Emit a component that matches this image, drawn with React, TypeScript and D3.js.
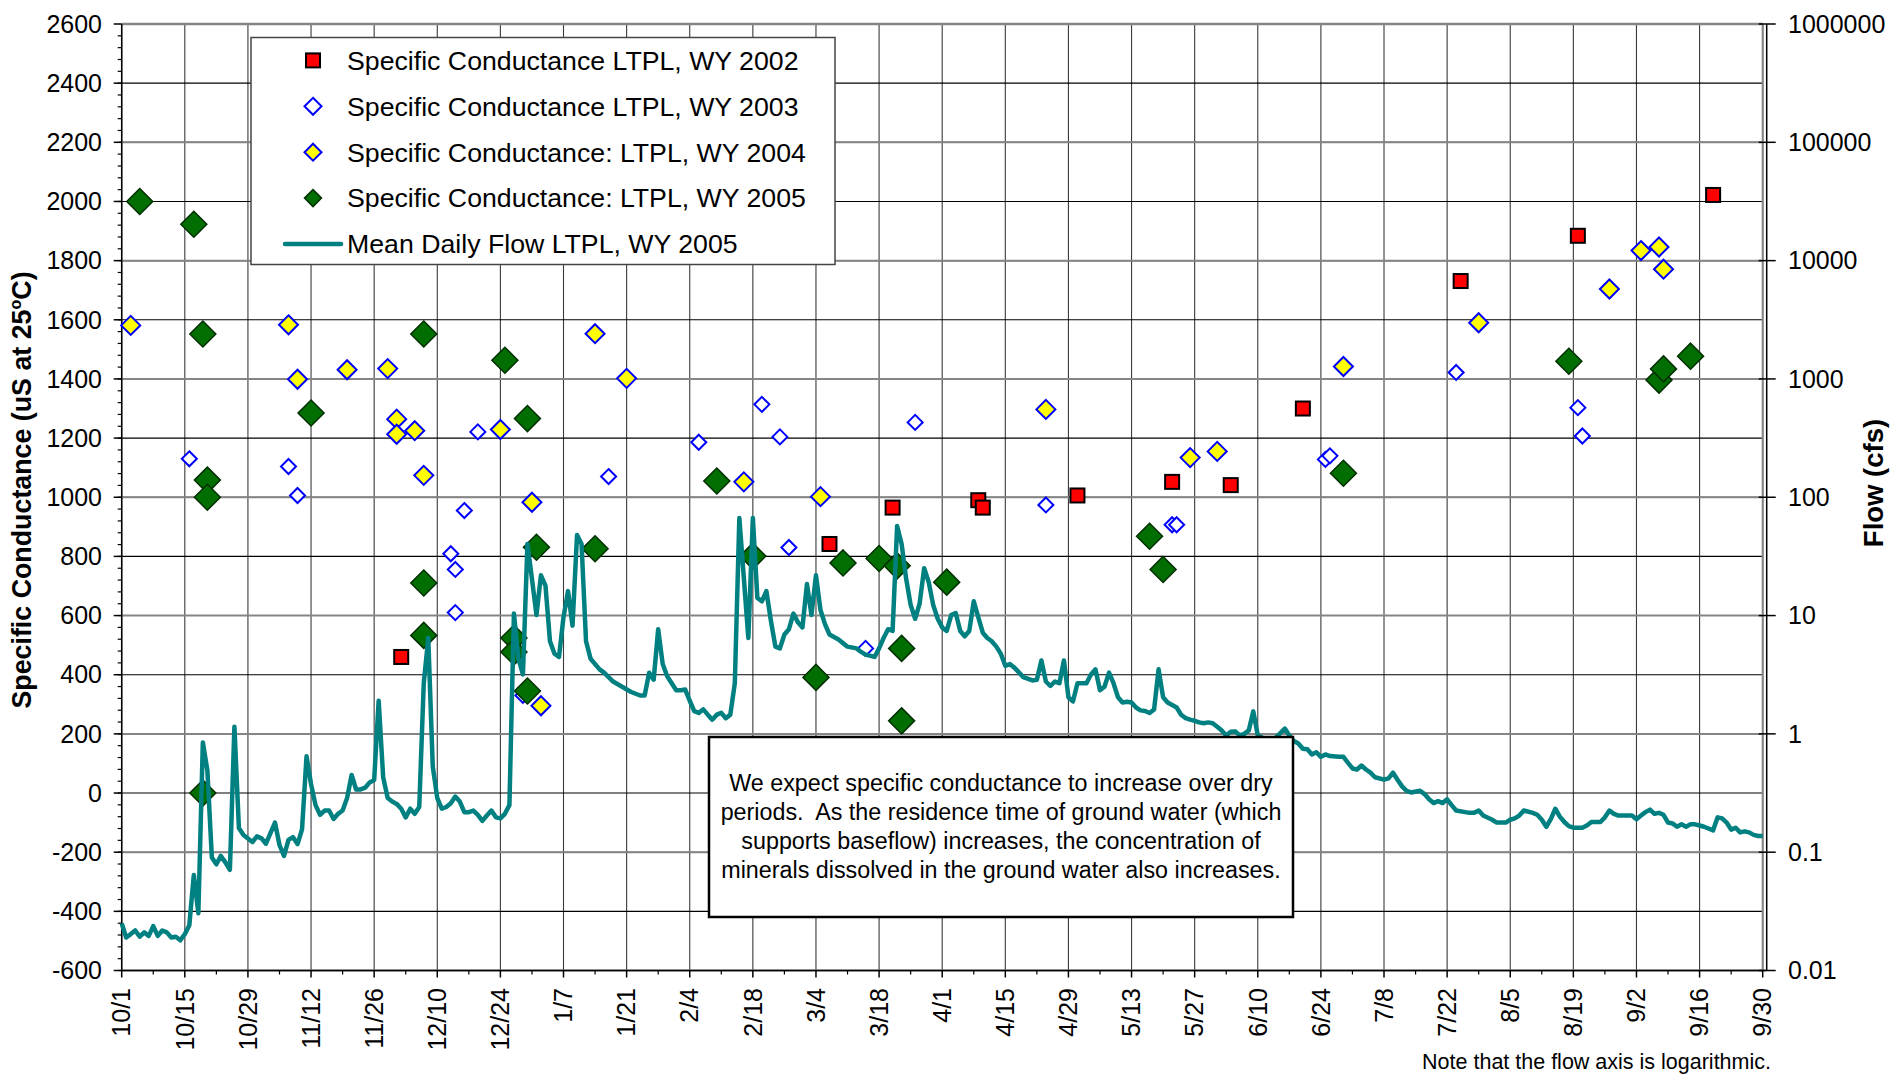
import * as d3 from 'd3';

// water year 2005 runs 10/1/2004 .. 9/30/2005
const WY_START = new Date(2004, 9, 1);
const WY_END = new Date(2005, 8, 30);

// specific conductance samples (uS at 25C), plotted by month/day on the WY 2005 axis
const wy2002Dates = ['12/2', '3/7', '3/21', '4/9', '4/10', '5/1', '5/22', '6/4', '6/20', '7/25', '8/20', '9/19'];
const wy2002Values = [460, 842, 965, 990, 965, 1006, 1052, 1041, 1300, 1731, 1884, 2022];

const wy2003Dates = ['10/16', '11/7', '11/9', '12/13', '12/14', '12/14', '12/16', '12/19', '12/29', '1/17', '2/6', '2/20',
  '2/24', '2/26', '3/15', '3/26', '4/24', '5/22', '5/23', '6/25', '6/26', '7/24', '8/20', '8/21'];
const wy2003Values = [1130, 1104, 1006, 809, 756, 610, 955, 1221, 330, 1070, 1186, 1314,
  1204, 830, 489, 1253, 974, 907, 907, 1128, 1140, 1422, 1303, 1207];

const wy2004Dates = ['10/3', '11/7', '11/9', '11/20', '11/29', '12/1', '12/1', '12/5', '12/7', '12/24', '12/31', '1/2',
  '1/14', '1/21', '2/16', '3/5', '4/24', '5/26', '6/1', '6/29', '7/29', '8/27', '9/3', '9/7', '9/8'];
const wy2004Values = [1581, 1583, 1399, 1431, 1435, 1264, 1213, 1225, 1074, 1229, 983, 295,
  1553, 1402, 1052, 1002, 1297, 1134, 1155, 1442, 1590, 1704, 1834, 1846, 1771];

const wy2005Dates = ['10/5', '10/17', '10/19', '10/19', '10/20', '10/20', '11/12', '12/7', '12/7', '12/7', '12/25', '12/27',
  '12/27', '12/30', '12/30', '1/1', '1/14', '2/10', '2/18', '3/4', '3/10', '3/18', '3/22', '3/23', '3/23', '4/2',
  '5/17', '5/20', '6/29', '8/18', '9/7', '9/8', '9/14'];
const wy2005Values = [2000, 1923, 1552, 0, 1058, 1000, 1285, 1552, 710, 533, 1463, 524,
  477, 1266, 345, 831, 826, 1055, 801, 391, 778, 793, 768, 489, 244, 713,
  868, 756, 1081, 1460, 1396, 1434, 1477];

// mean daily flow (cfs), day of water year (0 = 10/1/2004)
const flowDay = [0, 1, 2, 3, 4, 5, 6, 7, 8, 9, 10, 11, 12, 13, 14, 15, 16, 17, 18, 19, 20, 21, 22, 23, 24, 25, 26, 27, 29,
  30, 31, 32, 33, 34, 35, 36, 37, 38, 39, 40, 41, 42, 43, 44, 45, 46, 47, 48, 49, 50, 51, 52, 53, 54, 55, 56, 57, 58, 59,
  60, 61, 62, 63, 64, 65, 66, 67, 68, 69, 70, 71, 72, 73, 74, 75, 76, 77, 78, 79, 80, 81, 82, 83, 84, 85, 86, 87, 88, 89,
  90, 91, 92, 93, 94, 95, 96, 97, 98, 99, 100, 101, 102, 103, 104, 106, 107, 109, 111, 113, 115, 116, 117, 118, 119,
  120, 121, 123, 124, 125, 126, 127, 128, 129, 130, 131, 132, 133, 134, 135, 136, 137, 139, 140, 141, 142, 143, 144,
  145, 146, 147, 148, 149, 150, 151, 152, 153, 154, 155, 156, 157, 159, 160, 161, 163, 164, 165, 167, 168, 169, 170,
  171, 172, 173, 174, 175, 176, 177, 178, 179, 180, 181, 182, 183, 184, 185, 186, 187, 188, 189, 190, 191, 192, 193,
  194, 195, 196, 197, 198, 200, 202, 203, 204, 205, 206, 207, 208, 209, 210, 211, 212, 213, 214, 215, 216, 217, 218,
  219, 220, 221, 222, 223, 224, 225, 226, 227, 228, 229, 230, 231, 232, 234, 235, 236, 237, 238, 239, 240, 241, 242,
  243, 244, 245, 246, 247, 248, 249, 250, 251, 252, 255, 258, 259, 260, 261, 262, 263, 264, 265, 266, 267, 268, 270,
  271, 272, 273, 274, 275, 276, 277, 278, 280, 281, 282, 283, 284, 285, 286, 288, 289, 290, 291, 292, 293, 294, 295,
  296, 298, 299, 300, 301, 302, 304, 305, 306, 307, 308, 309, 310, 311, 313, 314, 315, 316, 317, 318, 319, 320, 321,
  322, 324, 325, 326, 328, 329, 330, 331, 332, 334, 335, 336, 337, 338, 339, 340, 341, 342, 343, 344, 345, 346, 347,
  348, 349, 350, 351, 353, 354, 355, 356, 357, 358, 359, 360, 361, 362, 363, 364];
const flowCfs = [0.025, 0.019, 0.0203, 0.0218, 0.0193, 0.021, 0.0196, 0.0237, 0.0196, 0.0218, 0.021, 0.019, 0.0193,
  0.018, 0.0203, 0.0241, 0.0642, 0.0305, 0.846, 0.493, 0.09, 0.079, 0.093, 0.082, 0.071, 1.15, 0.16, 0.14, 0.122,
  0.136, 0.131, 0.118, 0.145, 0.178, 0.115, 0.093, 0.127, 0.134, 0.117, 0.156, 0.646, 0.376, 0.25, 0.207, 0.225, 0.225,
  0.191, 0.211, 0.225, 0.287, 0.449, 0.339, 0.339, 0.351, 0.389, 0.407, 1.905, 0.429, 0.287,
  0.268, 0.256, 0.233, 0.197, 0.233, 0.211, 0.241, 2.68, 6.46, 0.528, 0.287, 0.233, 0.241, 0.259, 0.295, 0.268, 0.218,
  0.218, 0.225, 0.207, 0.184, 0.204, 0.225, 0.197, 0.193, 0.211, 0.25, 10.4, 4.32, 3.18,
  40.3, 20.5, 10.1, 21.9, 17.9, 6.06, 4.76, 4.47, 9.72, 16.1, 8.22, 47.9, 40.3, 6.06, 4.32, 3.51, 3.29, 2.77, 2.5, 2.26,
  2.11, 2.11, 3.29, 2.87, 7.67,
  3.89, 3.07, 2.34, 2.34, 2.37, 1.905, 1.557, 1.504, 1.612, 1.454, 1.318, 1.454, 1.504, 1.357, 1.454, 2.68, 66.8, 6.46,
  66.8, 14.1, 13.2, 16.1, 9.07,
  5.46, 5.28, 6.92, 7.67, 10.4, 8.76, 7.94, 18.5, 10.1, 21.9, 11.15, 8.46, 6.92, 6.27, 5.85, 5.46, 5.28, 4.93, 4.68,
  4.47, 5.28, 6.46, 7.67,
  7.41, 57.2, 40.3, 20.5, 12.3, 9.39, 12.7, 25.1, 19.2, 12.3, 9.39, 7.94, 7.41, 10.1, 10.5, 7.41, 6.68, 7.41, 13.2, 9.72,
  7.16, 6.46, 6.06,
  5.46, 4.76, 3.76, 3.89, 3.63, 3.02, 2.83, 2.87, 4.17, 2.77, 2.54, 2.77, 2.68, 4.17, 2.04, 1.88, 2.68, 2.68, 2.68, 3.18,
  3.51, 2.34, 2.5,
  3.29, 2.68, 2.04, 1.84, 1.87, 1.84, 1.67, 1.58, 1.56, 1.5, 1.61, 3.51, 2.04, 1.84, 1.67, 1.45, 1.36, 1.32, 1.29, 1.25,
  1.23, 1.25, 1.23,
  1.15, 1.07, 0.97, 1.04, 1.05, 0.97, 1.0, 1.07, 1.55, 0.97, 0.85, 1.11, 0.97, 0.87, 0.83, 0.75, 0.74, 0.67, 0.7, 0.64,
  0.67, 0.65, 0.64,
  0.64, 0.57, 0.51, 0.5, 0.54, 0.5, 0.47, 0.43, 0.41, 0.42, 0.47, 0.41, 0.36, 0.33, 0.32, 0.33, 0.31, 0.28, 0.26, 0.27,
  0.26, 0.28, 0.25,
  0.225, 0.218, 0.215, 0.215, 0.225, 0.204, 0.188, 0.178, 0.178, 0.178, 0.188, 0.193, 0.204, 0.225, 0.215, 0.207, 0.188,
  0.164, 0.19, 0.233, 0.2, 0.18, 0.166,
  0.161, 0.161, 0.168, 0.18, 0.18, 0.197, 0.225, 0.211, 0.204, 0.204, 0.204, 0.19, 0.204, 0.218, 0.229, 0.211, 0.215,
  0.207, 0.178, 0.175, 0.164, 0.172, 0.164,
  0.172, 0.172, 0.168, 0.164, 0.153, 0.197, 0.193, 0.178, 0.155, 0.161, 0.147, 0.15, 0.147, 0.14, 0.137, 0.137];

// axis ticks
const condTicks = [-600, -400, -200, 0, 200, 400, 600, 800, 1000, 1200, 1400, 1600, 1800, 2000, 2200, 2400, 2600];
const flowTicks = [0.01, 0.1, 1, 10, 100, 1000, 10000, 100000, 1000000];
const flowTickLabels = ['0.01', '0.1', '1', '10', '100', '1000', '10000', '100000', '1000000'];
const dateTicks = ['10/1', '10/15', '10/29', '11/12', '11/26', '12/10', '12/24', '1/7', '1/21', '2/4', '2/18', '3/4',
  '3/18', '4/1', '4/15', '4/29', '5/13', '5/27', '6/10', '6/24', '7/8', '7/22', '8/5', '8/19', '9/2', '9/16', '9/30'];

const legendLabels = [
  'Specific Conductance LTPL, WY 2002',
  'Specific Conductance LTPL, WY 2003',
  'Specific Conductance: LTPL, WY 2004',
  'Specific Conductance: LTPL, WY 2005',
  'Mean Daily Flow LTPL, WY 2005',
];

const noteLines = [
  'We expect specific conductance to increase over dry',
  'periods.  As the residence time of ground water (which',
  'supports baseflow) increases, the concentration of',
  'minerals dissolved in the ground water also increases.',
];

const FONT = '"Liberation Sans", Arial, sans-serif';
const TEAL = '#008080';
const GREEN = '#006E00';

const mdToDate = (md: string) => {
  const [m, d] = md.split('/').map(Number);
  return new Date(m >= 10 ? 2004 : 2005, m - 1, d);
};

const diamond = (r: number) => `M0,${-r}L${r},0L0,${r}L${-r},0Z`;

export default function App() {
  const W = 1895, H = 1076;
  const left = 121.7, right = 1762.7, top = 24, bottom = 970.5;

  const x = d3.scaleTime().domain([WY_START, WY_END]).range([left, right]);
  const y = d3.scaleLinear().domain([-600, 2600]).range([bottom, top]);
  const yFlow = d3.scaleLog().domain([0.01, 1000000]).range([bottom, top]);

  const minorCond = d3.range(-600, 2600, 40);
  const minorDates = dateTicks.slice(0, -1).map((t) => d3.timeDay.offset(mdToDate(t), 7));

  const flowLine = d3.line<number>()
    .x((d) => x(d3.timeDay.offset(WY_START, flowDay[d])))
    .y((d) => yFlow(flowCfs[d]));

  const sc = (dates: string[], vals: number[]) =>
    dates.map((dt, i) => ({ cx: x(mdToDate(dt)), cy: y(vals[i]) }));

  const lx = 251, ly = 37.5, lw = 584, lh = 227;
  const rowY = (i: number) => 60.4 + i * 45.9;

  return (
    <svg width={W} height={H} style={{ position: 'absolute', left: 0, top: 0, background: '#fff' }}
      fontFamily={FONT}>
      <rect width={W} height={H} fill="#fff" />

      {/* gridlines */}
      {dateTicks.map((t) => (
        <line key={'vg' + t} x1={x(mdToDate(t))} x2={x(mdToDate(t))} y1={top} y2={bottom}
          stroke="#3a3a3a" strokeWidth={1.1} />
      ))}
      {condTicks.map((v) => (
        <line key={'hg' + v} x1={left} x2={right} y1={y(v)} y2={y(v)} stroke="#000" strokeWidth={1.1} />
      ))}
      {flowTicks.map((f) => (
        <line key={'fg' + f} x1={left} x2={right} y1={yFlow(f)} y2={yFlow(f)} stroke="#858585" strokeWidth={2} />
      ))}

      {/* frame */}
      <line x1={left} x2={right} y1={top} y2={top} stroke="#858585" strokeWidth={2.5} />
      <line x1={right} x2={right} y1={top} y2={bottom} stroke="#858585" strokeWidth={2} />
      <line x1={right + 4} x2={right + 4} y1={top} y2={bottom} stroke="#000" strokeWidth={1.5} />
      <line x1={left} x2={left} y1={top} y2={bottom} stroke="#000" strokeWidth={1.5} />
      <line x1={left} x2={right + 4} y1={bottom} y2={bottom} stroke="#000" strokeWidth={1.5} />

      {/* left axis */}
      {minorCond.map((v) => (
        <line key={'mt' + v} x1={left - 4} x2={left} y1={y(v)} y2={y(v)} stroke="#000" strokeWidth={1.2} />
      ))}
      {condTicks.map((v) => (
        <g key={'lt' + v}>
          <line x1={left - 8} x2={left} y1={y(v)} y2={y(v)} stroke="#000" strokeWidth={1.5} />
          <text x={102} y={y(v)} dy="0.35em" textAnchor="end" fontSize={25}>{v}</text>
        </g>
      ))}

      {/* right axis */}
      {flowTicks.map((f, i) => (
        <g key={'rt' + f}>
          <line x1={right - 4} x2={right + 13} y1={yFlow(f)} y2={yFlow(f)} stroke="#000" strokeWidth={1.5} />
          <text x={1788} y={yFlow(f)} dy="0.35em" fontSize={25}>{flowTickLabels[i]}</text>
        </g>
      ))}

      {/* bottom axis */}
      {minorDates.map((d, i) => (
        <line key={'md' + i} x1={x(d)} x2={x(d)} y1={bottom} y2={bottom + 4} stroke="#000" strokeWidth={1.2} />
      ))}
      {dateTicks.map((t) => {
        const px = x(mdToDate(t));
        return (
          <g key={'xt' + t}>
            <line x1={px} x2={px} y1={bottom} y2={bottom + 7} stroke="#000" strokeWidth={1.5} />
            <text transform={`translate(${px},${988}) rotate(-90)`} dy="0.35em" textAnchor="end" fontSize={25}>{t}</text>
          </g>
        );
      })}

      {/* axis titles */}
      <text transform="translate(22,490) rotate(-90)" dy="0.35em" textAnchor="middle" fontSize={26.8} fontWeight="bold">
        Specific Conductance (uS at 25<tspan fontSize={16} dy={-10}>o</tspan><tspan dy={10}>C)</tspan>
      </text>
      <text transform="translate(1873,483) rotate(-90)" dy="0.35em" textAnchor="middle" fontSize={27.5} fontWeight="bold">
        Flow (cfs)
      </text>

      {/* WY 2002 */}
      {sc(wy2002Dates, wy2002Values).map((p, i) => (
        <rect key={'a' + i} x={p.cx - 7} y={p.cy - 7} width={14} height={14} fill="#FF0000" stroke="#000" strokeWidth={2} />
      ))}
      {/* WY 2003 */}
      {sc(wy2003Dates, wy2003Values).map((p, i) => (
        <path key={'b' + i} d={diamond(7.5)} transform={`translate(${p.cx},${p.cy})`} fill="#fff" stroke="#0000FF" strokeWidth={2} />
      ))}
      {/* WY 2004 */}
      {sc(wy2004Dates, wy2004Values).map((p, i) => (
        <path key={'c' + i} d={diamond(9.5)} transform={`translate(${p.cx},${p.cy})`} fill="#FFFF00" stroke="#0000FF" strokeWidth={2} />
      ))}
      {/* WY 2005 */}
      {sc(wy2005Dates, wy2005Values).map((p, i) => (
        <path key={'e' + i} d={diamond(13)} transform={`translate(${p.cx},${p.cy})`} fill={GREEN} stroke="#003000" strokeWidth={1.5} />
      ))}

      {/* flow */}
      <path d={flowLine(d3.range(flowDay.length)) ?? ''} fill="none" stroke={TEAL} strokeWidth={4.5} strokeLinejoin="round" />

      {/* legend */}
      <rect x={lx} y={ly} width={lw} height={lh} fill="#fff" stroke="#444" strokeWidth={1.5} />
      <rect x={313 - 7} y={rowY(0) - 7} width={14} height={14} fill="#FF0000" stroke="#000" strokeWidth={2} />
      <path d={diamond(8.5)} transform={`translate(313,${rowY(1)})`} fill="#fff" stroke="#0000FF" strokeWidth={2} />
      <path d={diamond(8.5)} transform={`translate(313,${rowY(2)})`} fill="#FFFF00" stroke="#0000FF" strokeWidth={2} />
      <path d={diamond(8.5)} transform={`translate(313,${rowY(3)})`} fill={GREEN} stroke="#003000" strokeWidth={1.5} />
      <line x1={285} x2={341} y1={rowY(4)} y2={rowY(4)} stroke={TEAL} strokeWidth={4.5} strokeLinecap="round" />
      {legendLabels.map((l, i) => (
        <text key={l} x={347} y={rowY(i)} dy="0.35em" fontSize={26.7}>{l}</text>
      ))}

      {/* annotation */}
      <rect x={709} y={737} width={584} height={180} fill="#fff" stroke="#000" strokeWidth={2.5} />
      {noteLines.map((l, i) => (
        <text key={i} x={1001} y={783 + i * 29} dy="0.35em" textAnchor="middle" fontSize={23.3} style={{ whiteSpace: 'pre' }}>{l}</text>
      ))}

      <text x={1771} y={1069} textAnchor="end" fontSize={21.5}>Note that the flow axis is logarithmic.</text>
    </svg>
  );
}
